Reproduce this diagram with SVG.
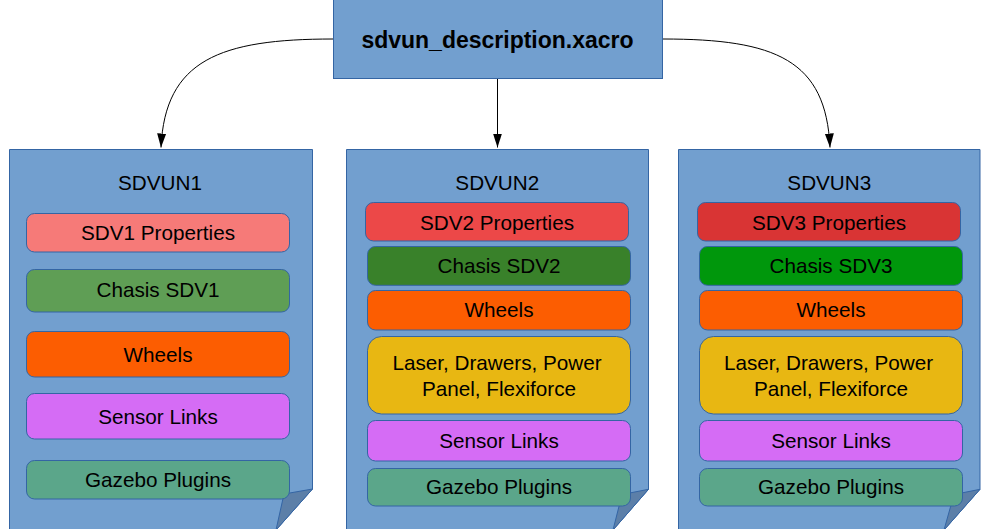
<svg xmlns="http://www.w3.org/2000/svg" width="983" height="529" viewBox="0 0 983 529">
<defs>
<marker id="ah" markerWidth="15" markerHeight="10" refX="14" refY="5" orient="auto" markerUnits="userSpaceOnUse" viewBox="0 0 15 10">
<path d="M0,0.5 L14,5 L0,9.5 Z" fill="#000"/>
</marker>
<style>
.page{fill:#729fcf;stroke:#3465a4;stroke-width:1}
.fold{fill:#5c7fa8;stroke:#3465a4;stroke-width:1}
.box{stroke:#3465a4;stroke-width:1}
.t{font-family:"Liberation Sans",Arial,sans-serif;font-size:20.7px;fill:#000;text-anchor:middle}
.h{font-family:"Liberation Sans",Arial,sans-serif;font-size:23px;font-weight:bold;fill:#000;text-anchor:middle}
.conn{fill:none;stroke:#000;stroke-width:1}
.p1{fill:#f67a78}.p2{fill:#ec4848}.p3{fill:#d93434}
.c1{fill:#5f9e55}.c2{fill:#39812a}.c3{fill:#00970c}
.wh{fill:#fc5d01}.la{fill:#e8b712}.se{fill:#d56cf5}.gz{fill:#5ba68a}
</style>
</defs>

<g id="connectors">
<path class="conn" d="M333,39 C220,39 165,60 161,147.5" marker-end="url(#ah)"/>
<path class="conn" d="M497.5,78.5 L497.5,147.5" marker-end="url(#ah)"/>
<path class="conn" d="M663,39 C776,39 826,60 830,147.5" marker-end="url(#ah)"/>
</g>

<g id="root">
<rect class="page" x="333.5" y="-1" width="329" height="79.5"/>
<text class="h" x="497.5" y="48">sdvun_description.xacro</text>
</g>

<g id="sdvun1">
<polygon class="page" points="9.5,149.5 312.5,149.5 312.5,489 276,530 9.5,530"/>
<polygon class="fold" points="312.5,489 284,494 276,530"/>
<text class="t" x="160" y="190">SDVUN1</text>
<g id="sdv1-props"><rect class="box p1" x="26.5" y="213.5" width="263" height="38.5" rx="8"/><text class="t" x="158" y="240">SDV1 Properties</text></g>
<g id="sdv1-chasis"><rect class="box c1" x="26.5" y="269.5" width="263" height="42.5" rx="8"/><text class="t" x="158" y="297.3">Chasis SDV1</text></g>
<g id="sdv1-wheels"><rect class="box wh" x="26.5" y="331.5" width="263" height="45.5" rx="8"/><text class="t" x="158" y="361.7">Wheels</text></g>
<g id="sdv1-sensor"><rect class="box se" x="26.5" y="393.5" width="263" height="45.5" rx="8"/><text class="t" x="158" y="424">Sensor Links</text></g>
<g id="sdv1-gazebo"><rect class="box gz" x="26.5" y="460.5" width="263" height="38.5" rx="8"/><text class="t" x="158" y="486.7">Gazebo Plugins</text></g>
</g>

<g id="sdvun2">
<polygon class="page" points="346.5,149.5 648.5,149.5 648.5,489.3 613,530 346.5,530"/>
<polygon class="fold" points="648.5,489.3 622,494.5 613,530"/>
<text class="t" x="497.3" y="190">SDVUN2</text>
<g id="sdv2-props"><rect class="box p2" x="365.5" y="202.5" width="263" height="38.5" rx="8"/><text class="t" x="497" y="229.5">SDV2 Properties</text></g>
<g id="sdv2-chasis"><rect class="box c2" x="367.5" y="246.5" width="263" height="38.8" rx="8"/><text class="t" x="499" y="272.7">Chasis SDV2</text></g>
<g id="sdv2-wheels"><rect class="box wh" x="367.5" y="290.5" width="263" height="39.5" rx="8"/><text class="t" x="499" y="317.3">Wheels</text></g>
<g id="sdv2-laser"><rect class="box la" x="367.5" y="336.5" width="263" height="77.5" rx="14"/><text class="t" x="497" y="370">Laser, Drawers, Power</text><text class="t" x="499" y="395.7">Panel, Flexiforce</text></g>
<g id="sdv2-sensor"><rect class="box se" x="367.5" y="420.5" width="263" height="40.5" rx="8"/><text class="t" x="499" y="448">Sensor Links</text></g>
<g id="sdv2-gazebo"><rect class="box gz" x="367.5" y="468.5" width="263" height="37.5" rx="8"/><text class="t" x="499" y="494">Gazebo Plugins</text></g>
</g>

<g id="sdvun3">
<polygon class="page" points="678.5,149.5 980,149.5 980,489.3 944,530 678.5,530"/>
<polygon class="fold" points="980,489.3 954,494.5 944,530"/>
<text class="t" x="829.3" y="190">SDVUN3</text>
<g id="sdv3-props"><rect class="box p3" x="697.5" y="202.5" width="263" height="38.5" rx="8"/><text class="t" x="829" y="229.5">SDV3 Properties</text></g>
<g id="sdv3-chasis"><rect class="box c3" x="699.5" y="246.5" width="263" height="38.8" rx="8"/><text class="t" x="831" y="272.7">Chasis SDV3</text></g>
<g id="sdv3-wheels"><rect class="box wh" x="699.5" y="290.5" width="263" height="39.5" rx="8"/><text class="t" x="831" y="317.3">Wheels</text></g>
<g id="sdv3-laser"><rect class="box la" x="699.5" y="336.5" width="263" height="77.5" rx="14"/><text class="t" x="828.5" y="370">Laser, Drawers, Power</text><text class="t" x="831" y="395.7">Panel, Flexiforce</text></g>
<g id="sdv3-sensor"><rect class="box se" x="699.5" y="420.5" width="263" height="40.5" rx="8"/><text class="t" x="831" y="448">Sensor Links</text></g>
<g id="sdv3-gazebo"><rect class="box gz" x="699.5" y="468.5" width="263" height="37.5" rx="8"/><text class="t" x="831" y="494">Gazebo Plugins</text></g>
</g>
</svg>
